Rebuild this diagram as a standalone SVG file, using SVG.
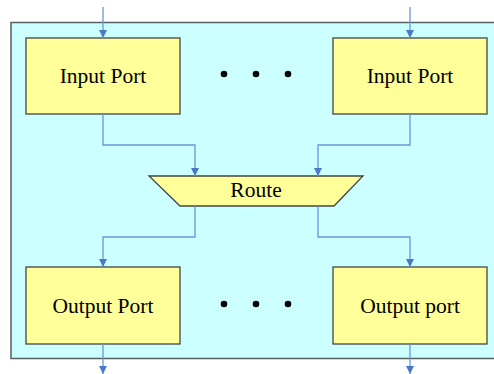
<svg xmlns="http://www.w3.org/2000/svg" width="494" height="374" viewBox="0 0 494 374">
<style>
.frame{fill:#CCFFFF;stroke:#556060;stroke-width:1.5}
.box{fill:#FFFF99;stroke:#444;stroke-width:1.3}
.lbl{font-family:"Liberation Serif","Times New Roman",serif;font-size:21.5px;fill:#000;text-anchor:middle}
.wire{fill:none;stroke:#6A96DA;stroke-width:1.3}
.dot{fill:#000}
</style>
<defs>
<marker id="ah" viewBox="0 0 10 10" refX="10" refY="5" markerWidth="8" markerHeight="8" markerUnits="userSpaceOnUse" orient="auto">
<path d="M0,0 L10,5 L0,10 Z" fill="#4A78C8"/>
</marker>
</defs>
<rect class="frame" x="11" y="22.5" width="490" height="336"/>
<g id="in1"><rect class="box" x="26" y="38" width="154" height="76"/><text class="lbl" x="103" y="83">Input Port</text></g>
<g id="in2"><rect class="box" x="333" y="38" width="154" height="76"/><text class="lbl" x="410" y="83">Input Port</text></g>
<g id="route"><polygon class="box" points="149,176 363,176 334,206 180,206"/><text class="lbl" x="256" y="197">Route</text></g>
<g id="out1"><rect class="box" x="26" y="267" width="154" height="77"/><text class="lbl" x="103" y="313">Output Port</text></g>
<g id="out2"><rect class="box" x="333" y="267" width="154" height="77"/><text class="lbl" x="410" y="313">Output port</text></g>
<g id="dots">
<circle class="dot" cx="224" cy="74" r="3.3"/><circle class="dot" cx="256" cy="74" r="3.3"/><circle class="dot" cx="288" cy="74" r="3.3"/>
<circle class="dot" cx="224" cy="304" r="3.3"/><circle class="dot" cx="256" cy="304" r="3.3"/><circle class="dot" cx="288" cy="304" r="3.3"/>
</g>
<g id="connectors">
<path class="wire" d="M103,7 V38" marker-end="url(#ah)"/>
<path class="wire" d="M410,7 V38" marker-end="url(#ah)"/>
<path class="wire" d="M103,114 V145 H195 V176" marker-end="url(#ah)"/>
<path class="wire" d="M410,114 V145 H318 V176" marker-end="url(#ah)"/>
<path class="wire" d="M195,206 V237 H103 V267" marker-end="url(#ah)"/>
<path class="wire" d="M318,206 V237 H410 V267" marker-end="url(#ah)"/>
<path class="wire" d="M103,344 V374" marker-end="url(#ah)"/>
<path class="wire" d="M410,344 V374" marker-end="url(#ah)"/>
</g>
</svg>
